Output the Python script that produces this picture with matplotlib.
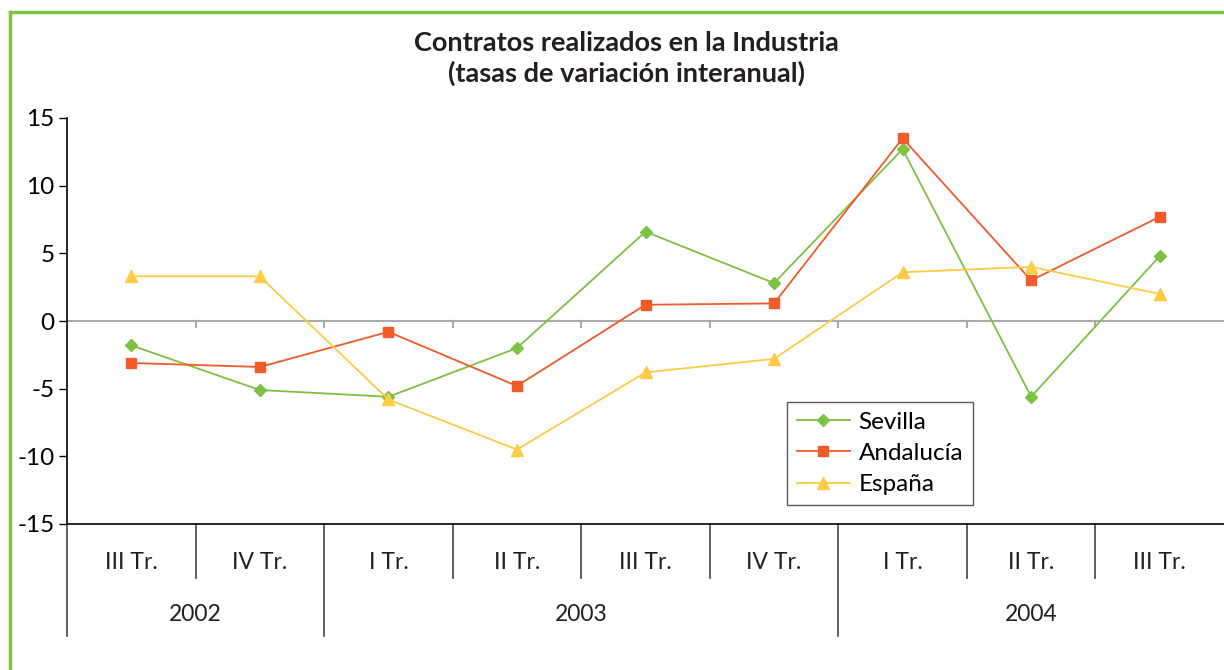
"""
Contratos realizados en la Industria - tasas de variación interanual
"""

import matplotlib.pyplot as plt
import matplotlib.transforms as mtransforms

plt.rcParams['font.family'] = ['Lato', 'DejaVu Sans']

# datos
trimestres = ["III Tr.", "IV Tr.", "I Tr.", "II Tr.", "III Tr.", "IV Tr.", "I Tr.", "II Tr.", "III Tr."]
anios = ["2002", "2003", "2004"]
anios_pos = [0.5, 3.5, 7.0]          # centro de cada grupo de años
sevilla = [-1.8, -5.1, -5.6, -2.0, 6.6, 2.8, 12.7, -5.6, 4.8]
andalucia = [-3.1, -3.4, -0.8, -4.8, 1.2, 1.3, 13.5, 3.0, 7.7]
espana = [3.3, 3.3, -5.8, -9.5, -3.8, -2.8, 3.6, 4.0, 2.0]

verde = "#7dc242"
naranja = "#f15a29"
amarillo = "#fdcb45"

fig = plt.figure(figsize=(12.24, 6.70), dpi=100)
ax = fig.add_axes([67 / 1224, 1 - 524 / 670, 1 - 67 / 1224, 406 / 670])

x = list(range(len(trimestres)))
ax.plot(x, sevilla, color=verde, lw=1.3, marker="D", ms=6, label="Sevilla")
ax.plot(x, andalucia, color=naranja, lw=1.3, marker="s", ms=7.5, label="Andalucía")
ax.plot(x, espana, color=amarillo, lw=1.3, marker="^", ms=8.5, label="España")

ax.set_xlim(-0.5, len(trimestres) - 0.5)
ax.set_ylim(-15, 15)
ax.set_yticks([-15, -10, -5, 0, 5, 10, 15])
ax.set_yticklabels(["-15", "-10", "-5", "0", "5", "10", "15"])
ax.tick_params(axis="y", direction="out", length=6, width=1, labelsize=17.5, pad=3)
ax.set_xticks([])
for s in ["top", "right"]:
    ax.spines[s].set_visible(False)
ax.spines["left"].set_linewidth(1.2)
ax.spines["bottom"].set_linewidth(1.2)

# línea del cero con marcas entre trimestres
ax.axhline(0, color="#aaaaaa", lw=1.5, zorder=1)
for b in [i + 0.5 for i in range(len(trimestres) - 1)]:
    ax.plot([b, b], [0, -0.45], color="#aaaaaa", lw=1.5, zorder=1)

# eje categórico de dos niveles
trans = mtransforms.blended_transform_factory(ax.transData, ax.transAxes)
for i, t in enumerate(trimestres):
    ax.text(i, -0.094, t, transform=trans, ha="center", va="center", fontsize=16.5, color="#231f20")
for p, a in zip(anios_pos, anios):
    ax.text(p, -0.222, a, transform=trans, ha="center", va="center", fontsize=16.5, color="#231f20")
for b in [0.5, 2.5, 3.5, 4.5, 6.5, 7.5]:
    ax.plot([b, b], [0, -0.133], transform=trans, color="#444444", lw=1.2, clip_on=False)
for b in [-0.5, 1.5, 5.5]:
    ax.plot([b, b], [0, -0.276], transform=trans, color="#444444", lw=1.2, clip_on=False)

ax.legend(loc="upper left", bbox_to_anchor=(720 / 1157, 1 - 284 / 406), fontsize=17.5,
          frameon=True, fancybox=False, edgecolor="#333333", handlelength=2.2,
          borderpad=0.4, labelspacing=0.42, handletextpad=0.35, borderaxespad=0)

fig.text(626 / 1224, 1 - 43 / 670, "Contratos realizados en la Industria",
         ha="center", va="center", fontsize=19.5, fontweight="bold", color="#231f20")
fig.text(626 / 1224, 1 - 73 / 670, "(tasas de variación interanual)",
         ha="center", va="center", fontsize=19.5, fontweight="bold", color="#231f20")

# marco verde (izquierda y arriba)
fig.add_artist(plt.Line2D([9.5 / 1224, 9.5 / 1224], [0, 1 - 11.5 / 670], color=verde, lw=2.5,
                          transform=fig.transFigure))
fig.add_artist(plt.Line2D([9.5 / 1224, 1], [1 - 11.5 / 670, 1 - 11.5 / 670], color=verde, lw=2.5,
                          transform=fig.transFigure))

fig.savefig("out.png", dpi=100)
